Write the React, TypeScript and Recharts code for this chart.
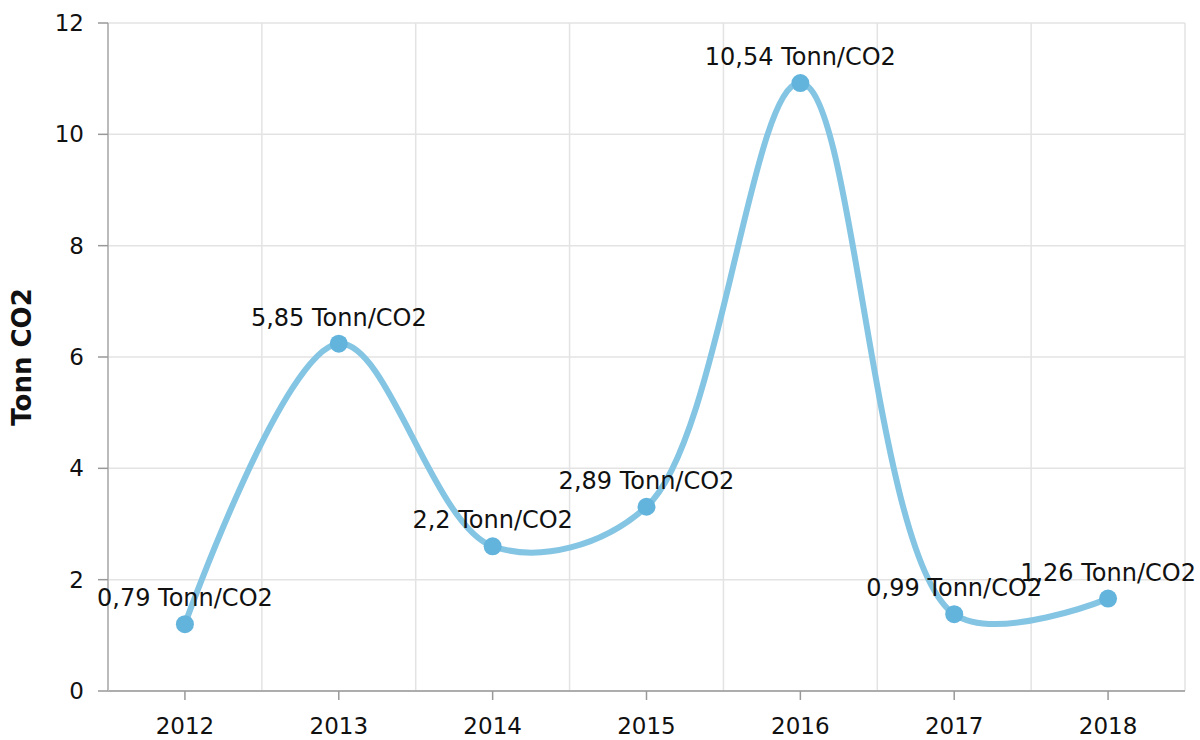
import React from "react";
import { LineChart, Line, XAxis, YAxis, CartesianGrid, LabelList } from "recharts";

const years = ["2012", "2013", "2014", "2015", "2016", "2017", "2018"];
const plotted = [1.2, 6.24, 2.6, 3.31, 10.92, 1.38, 1.66];
const labelValues = [0.79, 5.85, 2.2, 2.89, 10.54, 0.99, 1.26];
const yTicks = [0, 2, 4, 6, 8, 10, 12];

const data = years.map((year, i) => ({ year, value: plotted[i], label: labelValues[i] }));

const FONT = "'DejaVu Sans', Verdana, sans-serif";
const WIDTH = 1200;
const HEIGHT = 740;
const MARGIN = { top: 23, right: 15, bottom: 0, left: 20 };
const Y_WIDTH = 88;
const HALF_BAND = (WIDTH - MARGIN.left - MARGIN.right - Y_WIDTH) / years.length / 2;

// vertical grid lines sit on the category boundaries
const bandBoundaries = ({ offset }: any) =>
  Array.from({ length: years.length + 1 }, (_, i) => offset.left + (i * offset.width) / years.length);

// centripetal catmull-rom spline
function catmullRom(context: any) {
  let pts: [number, number][] = [];
  return {
    areaStart() {},
    areaEnd() {},
    lineStart() {
      pts = [];
    },
    point(x: number, y: number) {
      pts.push([+x, +y]);
    },
    lineEnd() {
      const n = pts.length;
      if (!n) return;
      const dist = (a: number[], b: number[]) => Math.hypot(b[0] - a[0], b[1] - a[1]);
      context.moveTo(pts[0][0], pts[0][1]);
      for (let i = 0; i < n - 1; i++) {
        const p0 = pts[i - 1];
        const p1 = pts[i];
        const p2 = pts[i + 1];
        const p3 = pts[i + 2];
        const l12 = dist(p1, p2);
        const l12a = Math.sqrt(l12);
        let c1 = [p1[0], p1[1]];
        let c2 = [p2[0], p2[1]];
        if (p0) {
          const l01 = dist(p0, p1);
          const l01a = Math.sqrt(l01);
          const a = 2 * l01 + 3 * l01a * l12a + l12;
          const m = 3 * l01a * (l01a + l12a);
          c1 = [0, 1].map((k) => (p1[k] * a - p0[k] * l12 + p2[k] * l01) / m);
        }
        if (p3) {
          const l23 = dist(p2, p3);
          const l23a = Math.sqrt(l23);
          const b = 2 * l23 + 3 * l23a * l12a + l12;
          const m = 3 * l23a * (l23a + l12a);
          c2 = [0, 1].map((k) => (p2[k] * b + p1[k] * l23 - p3[k] * l12) / m);
        }
        context.bezierCurveTo(c1[0], c1[1], c2[0], c2[1], p2[0], p2[1]);
      }
    },
  };
}

const renderLabel = (props: any) => {
  const { x, y, value } = props;
  return (
    <text x={x} y={y - 18} textAnchor="middle" fontSize={24} fontFamily={FONT} fill="#111">
      {`${String(value).replace(".", ",")} Tonn/CO2`}
    </text>
  );
};

export default function App() {
  return (
    <div style={{ position: "absolute", left: 0, top: 0, width: WIDTH, height: HEIGHT, background: "#fff" }}>
      <LineChart width={WIDTH} height={HEIGHT} data={data} margin={MARGIN}>
        <CartesianGrid stroke="#e3e3e3" strokeWidth={1.5} verticalCoordinatesGenerator={bandBoundaries} />
        <XAxis
          dataKey="year"
          height={49}
          padding={{ left: HALF_BAND, right: HALF_BAND }}
          tickSize={9}
          tickMargin={18}
          axisLine={{ stroke: "#999", strokeWidth: 1.5 }}
          tickLine={{ stroke: "#999", strokeWidth: 1.5 }}
          tick={{ fill: "#111", fontSize: 23, fontFamily: FONT }}
        />
        <YAxis
          width={Y_WIDTH}
          domain={[0, 12]}
          ticks={yTicks}
          tickSize={10}
          tickMargin={14}
          axisLine={{ stroke: "#bbb", strokeWidth: 2 }}
          tickLine={{ stroke: "#999", strokeWidth: 1.5 }}
          tick={{ fill: "#111", fontSize: 23, fontFamily: FONT }}
          label={{
            value: "Tonn CO2",
            angle: -90,
            position: "insideLeft",
            offset: 2,
            style: { fontSize: 26, fontWeight: "bold", fontFamily: FONT, fill: "#111", textAnchor: "middle" },
          }}
        />
        <Line
          type={catmullRom as any}
          dataKey="value"
          stroke="#85c5e4"
          strokeWidth={6}
          dot={{ r: 9, fill: "#63b4dc", stroke: "none" }}
          activeDot={false}
          isAnimationActive={false}
        >
          <LabelList dataKey="label" content={renderLabel} />
        </Line>
      </LineChart>
    </div>
  );
}
